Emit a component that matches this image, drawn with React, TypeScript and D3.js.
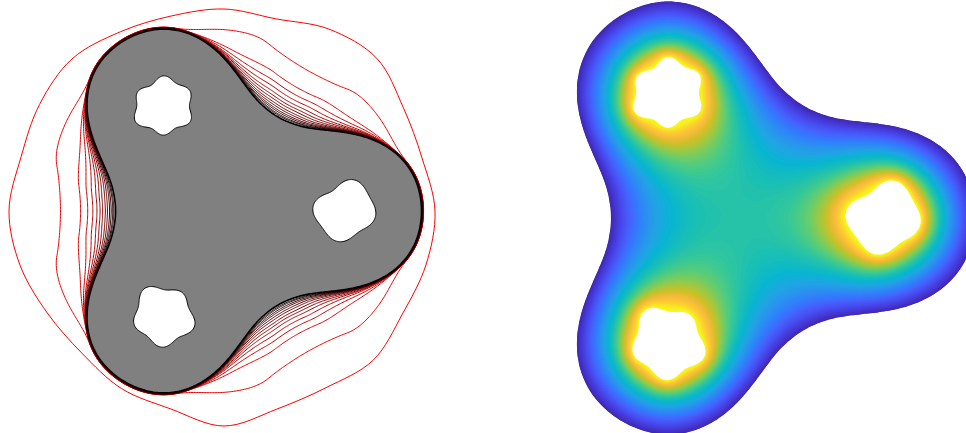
import React, { useMemo } from "react";
import * as d3 from "d3";

const W = 966;
const H = 433;

// ---- shape data (units = left-panel pixels, angles in degrees, screen orientation) ----
const LOBE_ANGLES = [0, 120, 240];
// outer boundary radius vs angular offset from the nearest lobe
const PROFILE_DEG = [0, 5, 10, 15, 20, 25, 30, 35, 40, 45, 50, 55, 60];
const PROFILE_R = [198, 197, 194, 188, 179, 167, 153, 138, 126, 117, 112, 109, 108];

// holes: top-left, right, bottom-left  (radius = base + sum of harmonics)
const HOLE_ANGLE = [240, 0, 120];
const HOLE_DIST = [121, 121, 121];
const HOLE_R = [28, 29, 29];
const HOLE_N = [6, 4, 5];
const HOLE_AMP = [2.4, 2.6, 2.6];
const HOLE_PHASE = [-90, 12, -124];
const HOLE_N2 = [2, 2, 2];
const HOLE_AMP2 = [1.0, 2.0, 1.0];
const HOLE_PHASE2 = [-20, -35, 40];
const HOLE_N3 = [3, 3, 3];
const HOLE_AMP3 = [0.8, 0.7, 0.8];
const HOLE_PHASE3 = [40, 60, 0];

// initial (outermost) red contour, radius at given angles
const C0_DEG = [-180, -165, -150, -135, -120, -105, -90, -75, -60, -45, -30, -15, 0, 15, 30, 45, 60, 75, 90, 105, 120, 135, 150, 165];
const C0_R = [215, 210, 213, 215, 207, 202, 202, 199, 210, 216, 207, 205, 211, 209, 206, 211, 204, 205, 215, 205, 205, 201, 204, 211];

// later iterations: gap to the final shape in the necks
const CURVE_NECK_GAP = [53, 33, 26, 21, 17, 14, 11.5, 9, 7, 5, 3.5, 2, 1];
const CURVE_RISE_START = [15, 18, 18, 19, 19, 19, 20, 20, 20, 20, 20, 20, 20];
const CURVE_RISE_END = [45, 50, 52, 53, 54, 55, 56, 57, 58, 58, 58, 58, 58];

// parula colormap stops
const PARULA = [
  [0.2422, 0.1504, 0.6603], [0.2706, 0.2147, 0.8364], [0.2813, 0.3006, 0.9414],
  [0.2699, 0.3892, 0.9906], [0.1963, 0.4847, 0.9892], [0.1687, 0.5703, 0.9359],
  [0.1248, 0.6459, 0.8883], [0.0297, 0.7082, 0.8163], [0.0964, 0.75, 0.712],
  [0.2161, 0.7843, 0.5923], [0.3909, 0.8029, 0.4354], [0.6174, 0.7876, 0.2612],
  [0.8203, 0.7498, 0.1535], [0.9728, 0.7298, 0.2394], [0.9892, 0.8136, 0.1885],
  [0.9628, 0.9373, 0.1265], [0.9769, 0.9839, 0.0805],
];
const PARULA_POS = [0, 4, 8, 12, 16, 20, 24, 28, 32, 36, 40, 44, 48, 52, 56, 60, 63].map((v) => v / 63);

// panels
const xL = d3.scaleLinear().domain([0, 100]).range([224, 324]);
const yL = d3.scaleLinear().domain([0, 100]).range([211, 311]);
const xR = d3.scaleLinear().domain([0, 100]).range([740, 859]);
const yR = d3.scaleLinear().domain([0, 100]).range([218, 337]);

const rad = Math.PI / 180;
const NS = 720;
const NH = 180;

function angDist(a: number, b: number) {
  return Math.abs(((((a - b) % 360) + 540) % 360) - 180);
}
function lobeOffset(th: number) {
  let m = 180;
  for (const a of LOBE_ANGLES) m = Math.min(m, angDist(th, a));
  return m;
}
function smoothstep(s: number) {
  const c = Math.max(0, Math.min(1, s));
  return c * c * (3 - 2 * c);
}
function holeR(h: number, phi: number) {
  return (
    HOLE_R[h] +
    HOLE_AMP[h] * Math.cos(HOLE_N[h] * (phi - HOLE_PHASE[h]) * rad) +
    HOLE_AMP2[h] * Math.cos(HOLE_N2[h] * (phi - HOLE_PHASE2[h]) * rad) +
    HOLE_AMP3[h] * Math.cos(HOLE_N3[h] * (phi - HOLE_PHASE3[h]) * rad)
  );
}
const parula = d3
  .scaleLinear<string>()
  .domain(PARULA_POS)
  .range(PARULA.map((c) => d3.rgb(c[0] * 255, c[1] * 255, c[2] * 255).toString()))
  .interpolate(d3.interpolateRgb)
  .clamp(true);

export default function App() {
  const g = useMemo(() => {
    const prof = d3.scaleLinear().domain(PROFILE_DEG).range(PROFILE_R).clamp(true);
    let rr = d3.range(NS).map((i) => prof(lobeOffset((i * 360) / NS)));
    for (let p = 0; p < 3; p++) {
      const src = rr;
      rr = src.map((_, i) => {
        let s = 0;
        for (let k = -5; k <= 5; k++) s += src[(i + k + NS) % NS];
        return s / 11;
      });
    }
    const rS = (th: number) => {
      const t = ((((th % 360) + 360) % 360) / 360) * NS;
      const i0 = Math.floor(t) % NS;
      const f = t - Math.floor(t);
      return rr[i0] * (1 - f) + rr[(i0 + 1) % NS] * f;
    };
    const outer = d3.range(NS).map((i) => {
      const th = (i * 360) / NS;
      return [rr[i] * Math.cos(th * rad), rr[i] * Math.sin(th * rad)];
    });
    const holes = HOLE_R.map((_, h) => {
      const cx = HOLE_DIST[h] * Math.cos(HOLE_ANGLE[h] * rad);
      const cy = HOLE_DIST[h] * Math.sin(HOLE_ANGLE[h] * rad);
      const pts = d3.range(NH).map((i) => {
        const phi = (i * 360) / NH;
        const r = holeR(h, phi);
        return [cx + r * Math.cos(phi * rad), cy + r * Math.sin(phi * rad)];
      });
      return { cx, cy, pts };
    });
    const curves = CURVE_NECK_GAP.map((gap, k) =>
      d3.range(NS).map((i) => {
        const th = (i * 360) / NS;
        const d = lobeOffset(th);
        const w = smoothstep((d - CURVE_RISE_START[k]) / (CURVE_RISE_END[k] - CURVE_RISE_START[k]));
        const r = rr[i] + 0.5 + 0.12 * (CURVE_NECK_GAP.length - k) + gap * w;
        return [r * Math.cos(th * rad), r * Math.sin(th * rad)];
      })
    );
    const c0 = C0_DEG.map((a, i) => [C0_R[i] * Math.cos(a * rad), C0_R[i] * Math.sin(a * rad)]);

    // ---- harmonic potential for right panel: 0 on outer boundary, 1 on holes ----
    const step = 2;
    const x0 = 500;
    const y0 = -6;
    const nx = Math.floor((990 - x0) / step) + 1;
    const ny = Math.floor((H + 12) / step) + 1;
    const N = nx * ny;
    const u = new Float64Array(N);
    const type = new Uint8Array(N); // 0 outside, 1 hole, 2 interior
    const ox: number[] = [];
    const oy: number[] = [];
    for (let i = 0; i < NS; i += 2) {
      ox.push(outer[i][0]);
      oy.push(outer[i][1]);
    }
    const hx: number[] = [];
    const hy: number[] = [];
    holes.forEach((h) => {
      for (let i = 0; i < NH; i += 2) {
        hx.push(h.pts[i][0]);
        hy.push(h.pts[i][1]);
      }
    });
    for (let j = 0; j < ny; j++) {
      for (let i = 0; i < nx; i++) {
        const idx = j * nx + i;
        const ux = xR.invert(x0 + i * step);
        const uy = yR.invert(y0 + j * step);
        const r = Math.hypot(ux, uy);
        const th = Math.atan2(uy, ux) / rad;
        if (r > rS(th) || i === 0 || j === 0 || i === nx - 1 || j === ny - 1) {
          type[idx] = 0;
          u[idx] = 0;
          continue;
        }
        let inHole = false;
        for (let h = 0; h < holes.length; h++) {
          const dx = ux - holes[h].cx;
          const dy = uy - holes[h].cy;
          if (Math.hypot(dx, dy) < holeR(h, Math.atan2(dy, dx) / rad)) {
            inHole = true;
            break;
          }
        }
        if (inHole) {
          type[idx] = 1;
          u[idx] = 1;
          continue;
        }
        type[idx] = 2;
        // initial guess from distances
        let dO = Infinity;
        for (let k = 0; k < ox.length; k++) {
          const dx = ux - ox[k];
          const dy = uy - oy[k];
          const d = dx * dx + dy * dy;
          if (d < dO) dO = d;
        }
        let dH = Infinity;
        for (let k = 0; k < hx.length; k++) {
          const dx = ux - hx[k];
          const dy = uy - hy[k];
          const d = dx * dx + dy * dy;
          if (d < dH) dH = d;
        }
        dO = Math.sqrt(dO);
        dH = Math.sqrt(dH);
        u[idx] = dO / (dO + dH);
      }
    }
    const omega = 1.96;
    for (let it = 0; it < 900; it++) {
      for (let j = 1; j < ny - 1; j++) {
        let idx = j * nx + 1;
        for (let i = 1; i < nx - 1; i++, idx++) {
          if (type[idx] !== 2) continue;
          const v = 0.25 * (u[idx - 1] + u[idx + 1] + u[idx - nx] + u[idx + nx]);
          u[idx] += omega * (v - u[idx]);
        }
      }
    }
    const vals = Array.from(u);
    const thr = d3.range(0, 1, 0.01);
    const contours = d3.contours().size([nx, ny]).thresholds(thr)(vals);
    const gp = d3.geoPath(d3.geoIdentity().scale(step).translate([x0 - step / 2, y0 - step / 2]) as any);
    const bands = contours.map((c) => ({ d: gp(c as any) || "", color: parula(c.value + 0.005) }));

    return { outer, holes, curves, c0, bands };
  }, []);

  const lineL = d3
    .line<number[]>()
    .x((d) => xL(d[0]))
    .y((d) => yL(d[1]))
    .curve(d3.curveLinearClosed);
  const lineR = d3
    .line<number[]>()
    .x((d) => xR(d[0]))
    .y((d) => yR(d[1]))
    .curve(d3.curveLinearClosed);
  const lineC0 = d3
    .line<number[]>()
    .x((d) => xL(d[0]))
    .y((d) => yL(d[1]))
    .curve(d3.curveCatmullRomClosed.alpha(0.5));

  const shapeD = lineL(g.outer) + g.holes.map((h) => lineL(h.pts)).join("");
  const nC = CURVE_NECK_GAP.length + 1;

  return (
    <svg width={W} height={H} style={{ position: "absolute", left: 0, top: 0, background: "#fff" }}>
      <defs>
        <clipPath id="rclip">
          <path d={lineR(g.outer) || ""} />
        </clipPath>
      </defs>
      {/* left panel */}
      <path d={shapeD} fill="#808080" fillRule="evenodd" stroke="none" />
      <path d={lineL(g.outer) || ""} fill="none" stroke="#000" strokeWidth={1.7} />
      <path d={lineC0(g.c0) || ""} fill="none" stroke="rgb(255,0,0)" strokeWidth={1} />
      {g.curves.map((c, k) => (
        <path
          key={k}
          d={lineL(c) || ""}
          fill="none"
          stroke={d3.rgb(255 * (1 - (k + 1) / nC), 0, 0).toString()}
          strokeWidth={1}
        />
      ))}
      {g.holes.map((h, i) => (
        <path key={i} d={lineL(h.pts) || ""} fill="#fff" stroke="#000" strokeWidth={1} />
      ))}
      {/* right panel */}
      <g clipPath="url(#rclip)">
        {g.bands.map((b, i) => (
          <path key={i} d={b.d} fill={b.color} stroke="none" />
        ))}
      </g>
      {g.holes.map((h, i) => (
        <path key={i} d={lineR(h.pts) || ""} fill="#fff" stroke="none" />
      ))}
    </svg>
  );
}
